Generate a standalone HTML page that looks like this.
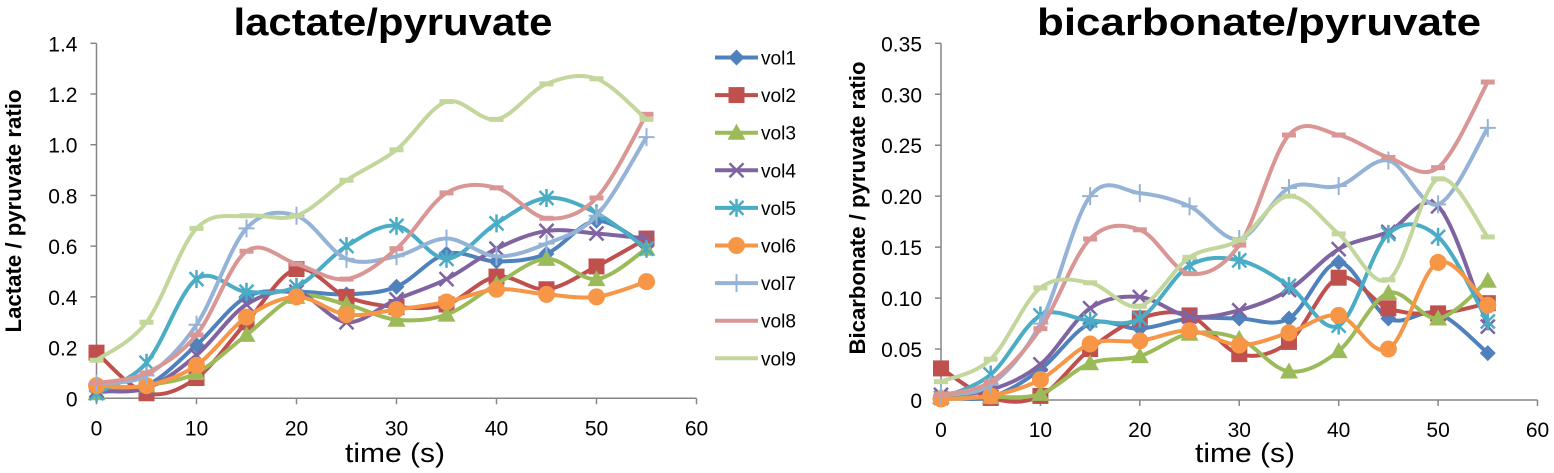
<!DOCTYPE html>
<html><head><meta charset="utf-8">
<style>
body{margin:0;background:#fff;width:1554px;height:473px;overflow:hidden}
svg{display:block;font-family:"Liberation Sans",sans-serif}
</style></head>
<body>
<svg id="chart" width="1554" height="473" viewBox="0 0 1554 473"></svg>
<script>
const times=[0,5,10,15,20,25,30,35,40,45,50,55];
const seriesNames=["vol1","vol2","vol3","vol4","vol5","vol6","vol7","vol8","vol9"];
const lactate1=[0.03,0.05,0.21,0.40,0.42,0.41,0.44,0.57,0.54,0.57,0.70,0.60];
const lactate2=[0.18,0.02,0.08,0.30,0.51,0.40,0.36,0.37,0.48,0.43,0.52,0.63];
const lactate3=[0.02,0.05,0.10,0.25,0.40,0.37,0.31,0.33,0.45,0.55,0.47,0.59];
const lactate4=[0.03,0.04,0.17,0.37,0.42,0.30,0.39,0.47,0.59,0.66,0.65,0.63];
const lactate5=[0.02,0.14,0.47,0.42,0.44,0.60,0.68,0.55,0.69,0.79,0.73,0.59];
const lactate6=[0.05,0.05,0.13,0.32,0.40,0.33,0.35,0.38,0.43,0.41,0.40,0.46];
const lactate7=[0.06,0.09,0.29,0.67,0.72,0.55,0.56,0.63,0.56,0.61,0.72,1.03];
const lactate8=[0.06,0.10,0.25,0.58,0.53,0.47,0.59,0.81,0.83,0.71,0.79,1.12];
const lactate9=[0.15,0.30,0.67,0.72,0.72,0.86,0.98,1.17,1.10,1.24,1.26,1.10];
const bicarb1=[0.003,0.003,0.03,0.075,0.07,0.08,0.08,0.08,0.135,0.08,0.085,0.046];
const bicarb2=[0.031,0.002,0.004,0.05,0.08,0.083,0.045,0.057,0.12,0.09,0.085,0.095];
const bicarb3=[0.003,0.003,0.006,0.036,0.043,0.065,0.06,0.028,0.048,0.105,0.08,0.117];
const bicarb4=[0.005,0.01,0.035,0.09,0.101,0.082,0.088,0.108,0.148,0.165,0.19,0.072];
const bicarb5=[0.002,0.025,0.083,0.078,0.08,0.132,0.137,0.112,0.073,0.163,0.16,0.077];
const bicarb6=[0.001,0.004,0.02,0.055,0.058,0.068,0.054,0.066,0.083,0.05,0.135,0.093];
const bicarb7=[0.005,0.015,0.075,0.2,0.203,0.19,0.158,0.208,0.21,0.235,0.192,0.267];
const bicarb8=[0.005,0.018,0.07,0.158,0.167,0.124,0.152,0.26,0.26,0.238,0.228,0.312];
const bicarb9=[0.018,0.04,0.11,0.115,0.092,0.14,0.157,0.2,0.163,0.118,0.217,0.16];
const xTicks=[0,10,20,30,40,50,60];
const yTicksL=["0","0.2","0.4","0.6","0.8","1.0","1.2","1.4"];
const yTicksR=["0","0.05","0.10","0.15","0.20","0.25","0.30","0.35"];

const colors=["#4F81BD","#C0504D","#9BBB59","#8064A2","#4BACC6","#F79646","#95B3D7","#D99694","#C3D69B"];
const markers=["diamond","square","triangle","x","star","circle","plus","dash","dash"];
const NS="http://www.w3.org/2000/svg";
const svg=document.getElementById("chart");
function el(tag,attrs,parent){const e=document.createElementNS(NS,tag);for(const k in attrs)e.setAttribute(k,attrs[k]);(parent||svg).appendChild(e);return e;}

function smoothPath(pts){
  let d="M"+pts[0][0]+","+pts[0][1];
  for(let i=0;i<pts.length-1;i++){
    const p0=pts[i-1]||pts[i],p1=pts[i],p2=pts[i+1],p3=pts[i+2]||p2;
    const t=1/6;
    const c1=[p1[0]+(p2[0]-p0[0])*t,p1[1]+(p2[1]-p0[1])*t];
    const c2=[p2[0]-(p3[0]-p1[0])*t,p2[1]-(p3[1]-p1[1])*t];
    d+=" C"+c1[0]+","+c1[1]+" "+c2[0]+","+c2[1]+" "+p2[0]+","+p2[1];
  }
  return d;
}
function marker(g,type,x,y,c){
  let m;
  if(type==="diamond")m=el("polygon",{points:`${x},${y-8} ${x+8},${y} ${x},${y+8} ${x-8},${y}`,fill:c},g);
  else if(type==="square")m=el("rect",{x:x-8,y:y-8,width:16,height:16,fill:c},g);
  else if(type==="triangle")m=el("polygon",{points:`${x},${y-9} ${x+9},${y+7} ${x-9},${y+7}`,fill:c},g);
  else if(type==="circle")m=el("circle",{cx:x,cy:y,r:8.5,fill:c},g);
  else if(type==="x")m=el("path",{d:`M${x-7},${y-7}L${x+7},${y+7}M${x+7},${y-7}L${x-7},${y+7}`,stroke:c,"stroke-width":2.5},g);
  else if(type==="star")m=el("path",{d:`M${x-7},${y-7}L${x+7},${y+7}M${x+7},${y-7}L${x-7},${y+7}M${x},${y-9}L${x},${y+9}`,stroke:c,"stroke-width":2.5},g);
  else if(type==="plus")m=el("path",{d:`M${x-8},${y}L${x+8},${y}M${x},${y-9}L${x},${y+9}`,stroke:c,"stroke-width":2},g);
  else m=el("path",{d:`M${x-7},${y}L${x+7},${y}`,stroke:c,"stroke-width":5},g);
  
  
}

function drawChart(opt){
  const {x0,x1,y0,y1,ymax,series,yTicks,title,ytitle,name,titleX,titleLen,xtX,ytX,ytY,ytLen}=opt;
  const g=el("g",{});
  
  
  const sx=v=>x0+(v/60)*(x1-x0);
  const sy=v=>y0-(v/ymax)*(y0-y1);
  el("line",{x1:x0,y1:y0,x2:x1,y2:y0,stroke:"#868686","stroke-width":1.5},g);
  el("line",{x1:x0,y1:y0+4,x2:x0,y2:y1,stroke:"#868686","stroke-width":1.5},g);
  xTicks.forEach(v=>{
    const X=sx(v);
    el("line",{x1:X,y1:y0,x2:X,y2:y0+6,stroke:"#868686","stroke-width":1.5},g);
    const t=el("text",{x:X,y:y0+37,"text-anchor":"middle","font-size":21,fill:"#000"},g);
    t.textContent=v;
    
    
  });
  yTicks.forEach((lab,i)=>{
    const v=ymax*i/(yTicks.length-1);
    const Y=sy(v);
    el("line",{x1:x0-6,y1:Y,x2:x0,y2:Y,stroke:"#868686","stroke-width":1.5},g);
    const t=el("text",{x:x0-19,y:Y+8,"text-anchor":"end","font-size":21,fill:"#000"},g);
    t.textContent=lab;
    
    
  });
  const tt=el("text",{x:titleX,y:35,"text-anchor":"middle","font-size":38,"font-weight":"bold",textLength:titleLen,lengthAdjust:"spacingAndGlyphs"},g);
  tt.textContent=title;
  
  
  const xt=el("text",{x:xtX,y:462,"text-anchor":"middle","font-size":27,textLength:100,lengthAdjust:"spacingAndGlyphs"},g);
  xt.textContent="time (s)";
  
  
  const yt=el("text",{x:0,y:0,"text-anchor":"middle","font-size":22,"font-weight":"bold",textLength:ytLen,lengthAdjust:"spacingAndGlyphs",transform:`translate(${ytX},${ytY}) rotate(-90)`},g);
  yt.textContent=ytitle;
  
  
  series.forEach((vals,i)=>{
    const sg=el("g",{},g);
    
    
    const pts=vals.map((v,j)=>[sx(times[j]),sy(v)]);
    const p=el("path",{d:smoothPath(pts),fill:"none",stroke:colors[i],"stroke-width":4,"stroke-linejoin":"round"},sg);
    
    
    pts.forEach(q=>marker(sg,markers[i],q[0],q[1],colors[i]));
  });
}

drawChart({name:"lactate-chart",x0:96.5,x1:696.5,y0:398.3,y1:43.3,ymax:1.4,
  series:[lactate1,lactate2,lactate3,lactate4,lactate5,lactate6,lactate7,lactate8,lactate9],
  yTicks:yTicksL,title:"lactate/pyruvate",ytitle:"Lactate / pyruvate ratio",
  titleX:393,titleLen:319,xtX:395,ytX:21,ytY:211,ytLen:243});
drawChart({name:"bicarbonate-chart",x0:941,x1:1537.5,y0:400,y1:43.3,ymax:0.35,
  series:[bicarb1,bicarb2,bicarb3,bicarb4,bicarb5,bicarb6,bicarb7,bicarb8,bicarb9],
  yTicks:yTicksR,title:"bicarbonate/pyruvate",ytitle:"Bicarbonate / pyruvate ratio",
  titleX:1259,titleLen:444,xtX:1245,ytX:865,ytY:208,ytLen:293});

const lg=el("g",{});


seriesNames.forEach((n,i)=>{
  const y=57.5+i*37.6;
  const eg=el("g",{},lg);
  
  
  el("line",{x1:715,y1:y,x2:758,y2:y,stroke:colors[i],"stroke-width":4},eg);
  if(markers[i]!=="dash")marker(eg,markers[i],736.5,y,colors[i]);
  const t=el("text",{x:761,y:y+7,"font-size":19,textLength:35,lengthAdjust:"spacingAndGlyphs"},eg);
  t.textContent=n;
});
</script>
</body></html>
